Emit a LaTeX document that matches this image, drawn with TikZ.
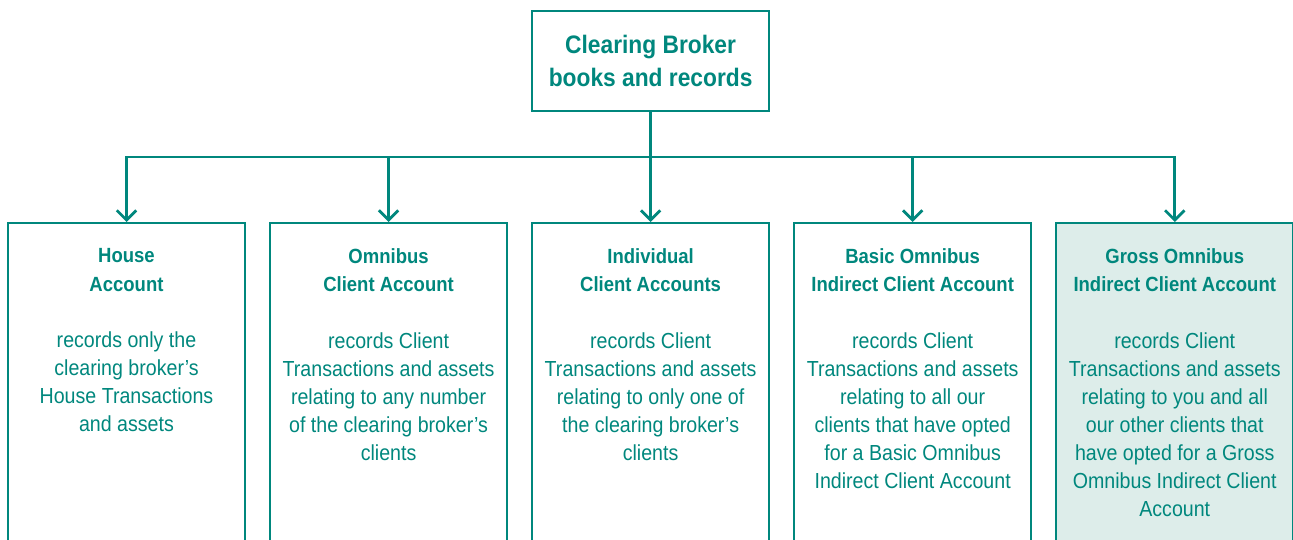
\documentclass[tikz,border=0pt]{standalone}
\usepackage{fontspec}
\setmainfont{Liberation Sans}[FakeStretch=0.9]
\usetikzlibrary{
    positioning, % relative placement of the boxes
    arrows.meta  % Straight Barb tips
}
\definecolor{brokerteal}{HTML}{00877D}
\definecolor{grossfill}{HTML}{DDEDEA}
% font of the account titles
\newcommand{\acctitle}{\fontsize{11.7}{16}\selectfont\bfseries}

\begin{document}
\begin{tikzpicture}[x=0.02cm, y=-0.02cm]

    % --- Styles ---
    \tikzset{
        % top box (clearing broker)
        topbox/.style={
            draw=brokerteal,
            line width=1.2pt,
            minimum width=4.74cm,
            minimum height=2cm,
            align=center,
            text=brokerteal,
            font=\fontsize{14.4}{18.7}\selectfont\bfseries
        },
        % the five account boxes
        account/.style={
            draw=brokerteal,
            line width=1.2pt,
            minimum width=4.74cm,
            minimum height=6.76cm
        },
        % text inside the account boxes
        account_text/.style={
            inner sep=0pt,
            align=center,
            text=brokerteal,
            font=\fontsize{12.4}{16}\selectfont
        },
        % connectors
        link/.style={
            brokerteal,
            line width=1.6pt
        },
        link_arrow/.style={
            link,
            -{Straight Barb[length=5.5pt, width=11pt]}
        }
    }

    \useasboundingbox (0,0) rectangle (1293,540);

    % --- Account boxes ---
    \node[account, anchor=north] (house) at (126.5,222) {};
    \node[account, right=0.46cm of house] (omnibus) {};
    \node[account, right=0.46cm of omnibus] (indiv) {};
    \node[account, right=0.46cm of indiv] (basic) {};
    \node[account, fill=grossfill, right=0.46cm of basic] (gross) {};

    % --- Clearing broker box ---
    \node[topbox, above=2.2cm of indiv] (broker) {Clearing Broker\\books and records};

    % --- Texts of the accounts ---
    \node[account_text, below=0.53cm of house.north] (house_text)
        {{\acctitle House}\\ {\acctitle Account}\\[16pt]
         records only the\\clearing broker’s\\House Transactions\\and assets};
    \node[account_text, below=0.53cm of omnibus.north] (omnibus_text)
        {{\acctitle Omnibus}\\ {\acctitle Client Account}\\[16pt]
         records Client\\Transactions and assets\\relating to any number\\of the clearing broker’s\\clients};
    \node[account_text, below=0.53cm of indiv.north] (indiv_text)
        {{\acctitle Individual}\\ {\acctitle Client Accounts}\\[16pt]
         records Client\\Transactions and assets\\relating to only one of\\the clearing broker’s\\clients};
    \node[account_text, below=0.53cm of basic.north] (basic_text)
        {{\acctitle Basic Omnibus}\\ {\acctitle Indirect Client Account}\\[16pt]
         records Client\\Transactions and assets\\relating to all our\\clients that have opted\\for a Basic Omnibus\\Indirect Client Account};
    \node[account_text, below=0.53cm of gross.north] (gross_text)
        {{\acctitle Gross Omnibus}\\ {\acctitle Indirect Client Account}\\[16pt]
         records Client\\Transactions and assets\\relating to you and all\\our other clients that\\have opted for a Gross\\Omnibus Indirect Client\\Account};

    % --- Connectors ---
    \coordinate[below=0.9cm of broker.south] (bus);
    \draw[link] (broker.south) -- (bus);
    \draw[link_arrow] (bus) -| (house.north);
    \draw[link_arrow] (bus) -| (omnibus.north);
    \draw[link_arrow] (bus) -- (indiv.north);
    \draw[link_arrow] (bus) -| (basic.north);
    \draw[link_arrow] (bus) -| (gross.north);

\end{tikzpicture}
\end{document}
